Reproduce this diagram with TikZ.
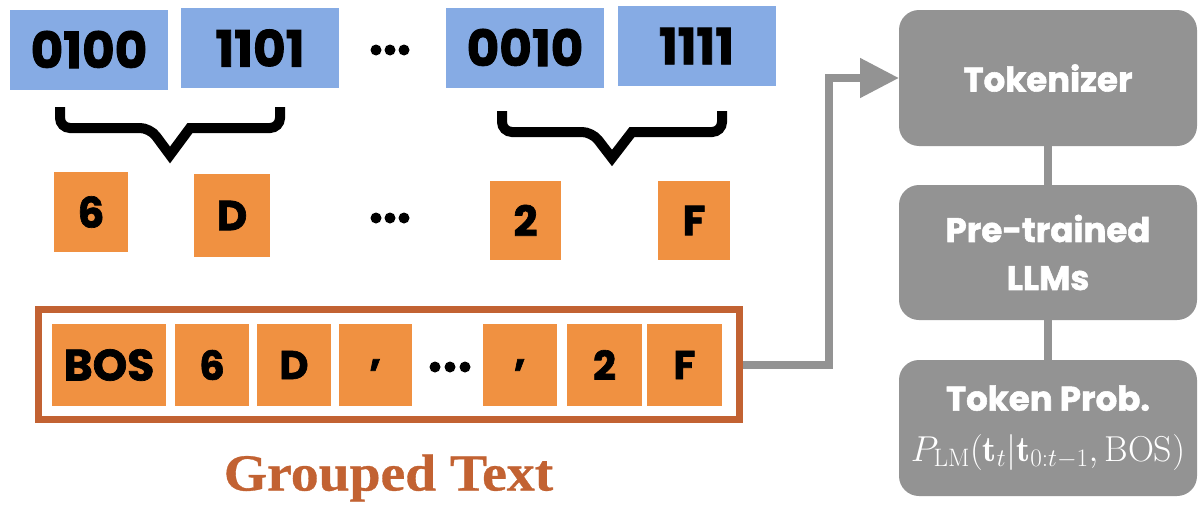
\RequirePackage{fix-cm}
\documentclass[tikz,border=0pt]{standalone}
\usepackage{fontspec}
\usetikzlibrary{arrows.meta}
\newfontfamily\popfont{Poppins}[BoldFeatures={FakeBold=1.6}]
\newfontfamily\serfont{Liberation Serif}[BoldFeatures={FakeBold=0.6}]
\definecolor{boxblue}{RGB}{134,171,228}
\definecolor{boxorange}{RGB}{240,145,65}
\definecolor{brownc}{RGB}{194,98,50}
\definecolor{grayc}{RGB}{147,147,147}
\tikzset{
  bluebox/.style={fill=boxblue, minimum width=158pt, minimum height=80pt, inner sep=0pt, outer sep=0pt,
    font=\popfont\bfseries\fontsize{50}{50}\selectfont},
  orbox/.style={fill=boxorange, minimum width=74pt, minimum height=80pt, inner sep=0pt, outer sep=0pt,
    font=\popfont\bfseries\fontsize{42}{42}\selectfont},
  tokbox/.style={fill=boxorange, minimum width=74pt, minimum height=82pt, inner sep=0pt, outer sep=0pt,
    font=\popfont\bfseries\fontsize{40}{40}\selectfont},
  container/.style={draw=brownc, line width=7pt, minimum width=701pt, minimum height=110pt, inner sep=0pt},
  graybox/.style={fill=grayc, rounded corners=20pt, minimum width=298pt, inner sep=0pt, outer sep=0pt,
    text=white, align=center, font=\popfont\bfseries\fontsize{34}{48}\selectfont},
  bracepath/.style={line width=10pt, black},
  gline/.style={draw=grayc, line width=8pt},
  garrow/.style={draw=grayc, line width=8pt, -{Triangle[length=39pt,width=38pt,fill=grayc]}},
  dotc/.style={fill=black, circle, inner sep=0pt, minimum size=11pt}
}
\begin{document}
\begin{tikzpicture}[x=1pt,y=-1pt]
\useasboundingbox (0,0) rectangle (1198,506);
% top row
\node[bluebox] (b1) at (89,49.5) {0100};
\node[bluebox] (b2) at (260,48) {1101};
\node[bluebox] (b3) at (525,47.5) {0010};
\node[bluebox] (b4) at (696.5,46) {1111};
\node[dotc] (d1) at (376,50) {};
\node[dotc] (d2) at (390,50) {};
\node[dotc] (d3) at (404,50) {};
% braces
\draw[bracepath, rounded corners=10pt] (60,107) -- (60,128) -- (150,128) [sharp corners] -- (170,155) -- (190,128) [rounded corners=10pt] -- (280,128) -- (280,107);
\draw[bracepath, rounded corners=10pt] (502,111) -- (502,132) -- (592,132) [sharp corners] -- (612,158) -- (632,132) [rounded corners=10pt] -- (722,132) -- (722,111);
% second row
\node[orbox] (h1) at (91,212) {6};
\node[orbox, minimum width=76pt, minimum height=83pt] (h2) at (232,215.5) {D};
\node[dotc] (e1) at (376,218) {};
\node[dotc] (e2) at (390,218) {};
\node[dotc] (e3) at (404,218) {};
\node[orbox, minimum width=71pt, minimum height=79pt] (h3) at (525.5,220.5) {2};
\node[orbox, minimum width=72pt, minimum height=79pt] (h4) at (694,220.5) {F};
% grouped text
\node[container] (grp) at (389,364.5) {};
\node[tokbox, minimum width=114pt, font=\popfont\bfseries\fontsize{44}{44}\selectfont] (t1) at (109,365) {BOS};
\node[tokbox] (t2) at (212,365) {6};
\node[tokbox] (t3) at (294,365) {D};
\node[tokbox, minimum width=73pt] (t4) at (375.5,365) {,};
\node[dotc] (f1) at (435,367) {};
\node[dotc] (f2) at (450,367) {};
\node[dotc] (f3) at (465,367) {};
\node[tokbox] (t5) at (520,365) {,};
\node[tokbox, minimum width=75pt] (t6) at (604.5,365) {2};
\node[tokbox, minimum width=75pt] (t7) at (684.5,365) {F};
\node[text=brownc, font=\serfont\bfseries\fontsize{52}{52}\selectfont, xscale=1.07] (gt) at (388.5,478) {Grouped Text};
% right column
\node[graybox, minimum height=136pt] (tok) at (1048,78) {Tokenizer};
\node[graybox, minimum height=135pt] (llm) at (1048,252.5) {Pre-trained\\LLMs};
\node[graybox, minimum height=136pt] (prob) at (1048,428) {Token Prob.\\[3pt]{\fontsize{36}{40}\selectfont$P_{\mathrm{LM}}(\mathbf{t}_t|\mathbf{t}_{0:t-1},\mathrm{BOS})$}};
\draw[gline] (tok) -- (llm);
\draw[gline] (llm) -- (prob);
\draw[garrow] (grp.east) -- ++(86,0) |- (tok.west);
\end{tikzpicture}
\end{document}
